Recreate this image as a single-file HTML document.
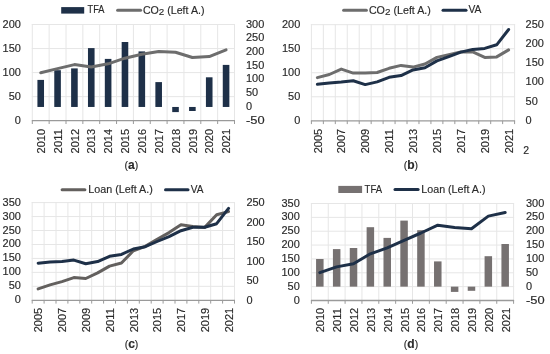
<!DOCTYPE html>
<html><head><meta charset="utf-8"><title>Charts</title>
<style>
html,body{margin:0;padding:0;background:#fff;}
body{width:550px;height:354px;overflow:hidden;}
svg{display:block;will-change:transform;}
svg text{font-family:"Liberation Sans", sans-serif;font-size:10.5px;fill:#2a2a2a;stroke:#2a2a2a;stroke-width:0.15px;}
</style></head>
<body>
<svg width="550" height="354" viewBox="0 0 550 354">
<rect width="550" height="354" fill="#fff"/>
<line x1="31.8" y1="24.5" x2="235" y2="24.5" stroke="#e6e6e6" stroke-width="1"/>
<line x1="31.8" y1="48.55" x2="235" y2="48.55" stroke="#e6e6e6" stroke-width="1"/>
<line x1="31.8" y1="72.6" x2="235" y2="72.6" stroke="#e6e6e6" stroke-width="1"/>
<line x1="31.8" y1="96.65" x2="235" y2="96.65" stroke="#e6e6e6" stroke-width="1"/>
<line x1="32.3" y1="24" x2="32.3" y2="120.7" stroke="#e6e6e6" stroke-width="1"/>
<line x1="49.15" y1="24" x2="49.15" y2="120.7" stroke="#e6e6e6" stroke-width="1"/>
<line x1="66" y1="24" x2="66" y2="120.7" stroke="#e6e6e6" stroke-width="1"/>
<line x1="82.85" y1="24" x2="82.85" y2="120.7" stroke="#e6e6e6" stroke-width="1"/>
<line x1="99.7" y1="24" x2="99.7" y2="120.7" stroke="#e6e6e6" stroke-width="1"/>
<line x1="116.55" y1="24" x2="116.55" y2="120.7" stroke="#e6e6e6" stroke-width="1"/>
<line x1="133.4" y1="24" x2="133.4" y2="120.7" stroke="#e6e6e6" stroke-width="1"/>
<line x1="150.25" y1="24" x2="150.25" y2="120.7" stroke="#e6e6e6" stroke-width="1"/>
<line x1="167.1" y1="24" x2="167.1" y2="120.7" stroke="#e6e6e6" stroke-width="1"/>
<line x1="183.95" y1="24" x2="183.95" y2="120.7" stroke="#e6e6e6" stroke-width="1"/>
<line x1="200.8" y1="24" x2="200.8" y2="120.7" stroke="#e6e6e6" stroke-width="1"/>
<line x1="217.65" y1="24" x2="217.65" y2="120.7" stroke="#e6e6e6" stroke-width="1"/>
<line x1="234.5" y1="24" x2="234.5" y2="120.7" stroke="#e6e6e6" stroke-width="1"/>
<line x1="31.8" y1="120.7" x2="235" y2="120.7" stroke="#9a9a9a" stroke-width="1.3"/>
<line x1="32.3" y1="120.7" x2="32.3" y2="124" stroke="#9a9a9a" stroke-width="1"/>
<line x1="49.15" y1="120.7" x2="49.15" y2="124" stroke="#9a9a9a" stroke-width="1"/>
<line x1="66" y1="120.7" x2="66" y2="124" stroke="#9a9a9a" stroke-width="1"/>
<line x1="82.85" y1="120.7" x2="82.85" y2="124" stroke="#9a9a9a" stroke-width="1"/>
<line x1="99.7" y1="120.7" x2="99.7" y2="124" stroke="#9a9a9a" stroke-width="1"/>
<line x1="116.55" y1="120.7" x2="116.55" y2="124" stroke="#9a9a9a" stroke-width="1"/>
<line x1="133.4" y1="120.7" x2="133.4" y2="124" stroke="#9a9a9a" stroke-width="1"/>
<line x1="150.25" y1="120.7" x2="150.25" y2="124" stroke="#9a9a9a" stroke-width="1"/>
<line x1="167.1" y1="120.7" x2="167.1" y2="124" stroke="#9a9a9a" stroke-width="1"/>
<line x1="183.95" y1="120.7" x2="183.95" y2="124" stroke="#9a9a9a" stroke-width="1"/>
<line x1="200.8" y1="120.7" x2="200.8" y2="124" stroke="#9a9a9a" stroke-width="1"/>
<line x1="217.65" y1="120.7" x2="217.65" y2="124" stroke="#9a9a9a" stroke-width="1"/>
<line x1="234.5" y1="120.7" x2="234.5" y2="124" stroke="#9a9a9a" stroke-width="1"/>
<text x="20.9" y="27.5" text-anchor="end" textLength="18.3" lengthAdjust="spacingAndGlyphs">200</text>
<text x="20.9" y="51.55" text-anchor="end" textLength="18.3" lengthAdjust="spacingAndGlyphs">150</text>
<text x="20.9" y="75.6" text-anchor="end" textLength="18.3" lengthAdjust="spacingAndGlyphs">100</text>
<text x="20.9" y="99.65" text-anchor="end" textLength="12.2" lengthAdjust="spacingAndGlyphs">50</text>
<text x="20.9" y="123.7" text-anchor="end" textLength="6.1" lengthAdjust="spacingAndGlyphs">0</text>
<text x="246" y="27.5" textLength="18.3" lengthAdjust="spacingAndGlyphs">300</text>
<text x="246" y="41.24" textLength="18.3" lengthAdjust="spacingAndGlyphs">250</text>
<text x="246" y="54.99" textLength="18.3" lengthAdjust="spacingAndGlyphs">200</text>
<text x="246" y="68.73" textLength="18.3" lengthAdjust="spacingAndGlyphs">150</text>
<text x="246" y="82.47" textLength="18.3" lengthAdjust="spacingAndGlyphs">100</text>
<text x="246" y="96.21" textLength="12.2" lengthAdjust="spacingAndGlyphs">50</text>
<text x="246" y="109.96" textLength="6.1" lengthAdjust="spacingAndGlyphs">0</text>
<text x="246" y="123.7" textLength="18.61" lengthAdjust="spacingAndGlyphs">-50</text>
<text transform="translate(44.92,129) rotate(-90)" text-anchor="end" textLength="24.4" lengthAdjust="spacingAndGlyphs">2010</text>
<text transform="translate(61.77,129) rotate(-90)" text-anchor="end" textLength="24.4" lengthAdjust="spacingAndGlyphs">2011</text>
<text transform="translate(78.62,129) rotate(-90)" text-anchor="end" textLength="24.4" lengthAdjust="spacingAndGlyphs">2012</text>
<text transform="translate(95.47,129) rotate(-90)" text-anchor="end" textLength="24.4" lengthAdjust="spacingAndGlyphs">2013</text>
<text transform="translate(112.32,129) rotate(-90)" text-anchor="end" textLength="24.4" lengthAdjust="spacingAndGlyphs">2014</text>
<text transform="translate(129.17,129) rotate(-90)" text-anchor="end" textLength="24.4" lengthAdjust="spacingAndGlyphs">2015</text>
<text transform="translate(146.02,129) rotate(-90)" text-anchor="end" textLength="24.4" lengthAdjust="spacingAndGlyphs">2016</text>
<text transform="translate(162.87,129) rotate(-90)" text-anchor="end" textLength="24.4" lengthAdjust="spacingAndGlyphs">2017</text>
<text transform="translate(179.72,129) rotate(-90)" text-anchor="end" textLength="24.4" lengthAdjust="spacingAndGlyphs">2018</text>
<text transform="translate(196.57,129) rotate(-90)" text-anchor="end" textLength="24.4" lengthAdjust="spacingAndGlyphs">2019</text>
<text transform="translate(213.42,129) rotate(-90)" text-anchor="end" textLength="24.4" lengthAdjust="spacingAndGlyphs">2020</text>
<text transform="translate(230.27,129) rotate(-90)" text-anchor="end" textLength="24.4" lengthAdjust="spacingAndGlyphs">2021</text>
<rect x="37.42" y="79.9" width="6.6" height="27.06" fill="#1e3048"/>
<rect x="54.27" y="70.2" width="6.6" height="36.76" fill="#1e3048"/>
<rect x="71.12" y="68.4" width="6.6" height="38.56" fill="#1e3048"/>
<rect x="87.97" y="48.1" width="6.6" height="58.86" fill="#1e3048"/>
<rect x="104.82" y="58.9" width="6.6" height="48.06" fill="#1e3048"/>
<rect x="121.67" y="42" width="6.6" height="64.96" fill="#1e3048"/>
<rect x="138.52" y="51.4" width="6.6" height="55.56" fill="#1e3048"/>
<rect x="155.37" y="82.1" width="6.6" height="24.86" fill="#1e3048"/>
<rect x="172.22" y="106.96" width="6.6" height="5.14" fill="#1e3048"/>
<rect x="189.07" y="106.96" width="6.6" height="4.04" fill="#1e3048"/>
<rect x="205.92" y="77.3" width="6.6" height="29.66" fill="#1e3048"/>
<rect x="222.77" y="64.9" width="6.6" height="42.06" fill="#1e3048"/>
<polyline points="40.72,72.7 57.57,68.6 74.42,64.6 91.27,67 108.12,63.8 124.97,58.2 141.82,54.2 158.67,51.5 175.52,52.3 192.38,57.5 209.22,56.6 226.07,49.8" fill="none" stroke="#6d6d6d" stroke-width="3.0" stroke-linejoin="round" stroke-linecap="round"/>
<rect x="61.2" y="7.1" width="23" height="6.5" fill="#1e3048"/>
<text x="87.5" y="13.3" font-size="10.2" textLength="16.9" lengthAdjust="spacingAndGlyphs">TFA</text>
<line x1="117.6" y1="10.2" x2="140.6" y2="10.2" stroke="#6d6d6d" stroke-width="3.0" stroke-linecap="round"/>
<text x="142.9" y="13.6" font-size="10.2" textLength="61.6" lengthAdjust="spacingAndGlyphs">CO<tspan dy="1.6" font-size="9.69">2</tspan><tspan dy="-1.6"> (Left A.)</tspan></text>
<text x="131.4" y="168.8" text-anchor="middle" font-family="Liberation Serif, serif" font-size="13" fill="#111" stroke="none">(<tspan font-weight="bold" font-size="12">a</tspan>)</text>
<line x1="310.9" y1="24.7" x2="515.1" y2="24.7" stroke="#e6e6e6" stroke-width="1"/>
<line x1="310.9" y1="48.72" x2="515.1" y2="48.72" stroke="#e6e6e6" stroke-width="1"/>
<line x1="310.9" y1="72.75" x2="515.1" y2="72.75" stroke="#e6e6e6" stroke-width="1"/>
<line x1="310.9" y1="96.77" x2="515.1" y2="96.77" stroke="#e6e6e6" stroke-width="1"/>
<line x1="311.4" y1="24.2" x2="311.4" y2="120.8" stroke="#e6e6e6" stroke-width="1"/>
<line x1="323.35" y1="24.2" x2="323.35" y2="120.8" stroke="#e6e6e6" stroke-width="1"/>
<line x1="335.31" y1="24.2" x2="335.31" y2="120.8" stroke="#e6e6e6" stroke-width="1"/>
<line x1="347.26" y1="24.2" x2="347.26" y2="120.8" stroke="#e6e6e6" stroke-width="1"/>
<line x1="359.21" y1="24.2" x2="359.21" y2="120.8" stroke="#e6e6e6" stroke-width="1"/>
<line x1="371.16" y1="24.2" x2="371.16" y2="120.8" stroke="#e6e6e6" stroke-width="1"/>
<line x1="383.12" y1="24.2" x2="383.12" y2="120.8" stroke="#e6e6e6" stroke-width="1"/>
<line x1="395.07" y1="24.2" x2="395.07" y2="120.8" stroke="#e6e6e6" stroke-width="1"/>
<line x1="407.02" y1="24.2" x2="407.02" y2="120.8" stroke="#e6e6e6" stroke-width="1"/>
<line x1="418.98" y1="24.2" x2="418.98" y2="120.8" stroke="#e6e6e6" stroke-width="1"/>
<line x1="430.93" y1="24.2" x2="430.93" y2="120.8" stroke="#e6e6e6" stroke-width="1"/>
<line x1="442.88" y1="24.2" x2="442.88" y2="120.8" stroke="#e6e6e6" stroke-width="1"/>
<line x1="454.84" y1="24.2" x2="454.84" y2="120.8" stroke="#e6e6e6" stroke-width="1"/>
<line x1="466.79" y1="24.2" x2="466.79" y2="120.8" stroke="#e6e6e6" stroke-width="1"/>
<line x1="478.74" y1="24.2" x2="478.74" y2="120.8" stroke="#e6e6e6" stroke-width="1"/>
<line x1="490.69" y1="24.2" x2="490.69" y2="120.8" stroke="#e6e6e6" stroke-width="1"/>
<line x1="502.65" y1="24.2" x2="502.65" y2="120.8" stroke="#e6e6e6" stroke-width="1"/>
<line x1="514.6" y1="24.2" x2="514.6" y2="120.8" stroke="#e6e6e6" stroke-width="1"/>
<line x1="310.9" y1="120.8" x2="515.1" y2="120.8" stroke="#9a9a9a" stroke-width="1.3"/>
<line x1="311.4" y1="120.8" x2="311.4" y2="124.1" stroke="#9a9a9a" stroke-width="1"/>
<line x1="323.35" y1="120.8" x2="323.35" y2="124.1" stroke="#9a9a9a" stroke-width="1"/>
<line x1="335.31" y1="120.8" x2="335.31" y2="124.1" stroke="#9a9a9a" stroke-width="1"/>
<line x1="347.26" y1="120.8" x2="347.26" y2="124.1" stroke="#9a9a9a" stroke-width="1"/>
<line x1="359.21" y1="120.8" x2="359.21" y2="124.1" stroke="#9a9a9a" stroke-width="1"/>
<line x1="371.16" y1="120.8" x2="371.16" y2="124.1" stroke="#9a9a9a" stroke-width="1"/>
<line x1="383.12" y1="120.8" x2="383.12" y2="124.1" stroke="#9a9a9a" stroke-width="1"/>
<line x1="395.07" y1="120.8" x2="395.07" y2="124.1" stroke="#9a9a9a" stroke-width="1"/>
<line x1="407.02" y1="120.8" x2="407.02" y2="124.1" stroke="#9a9a9a" stroke-width="1"/>
<line x1="418.98" y1="120.8" x2="418.98" y2="124.1" stroke="#9a9a9a" stroke-width="1"/>
<line x1="430.93" y1="120.8" x2="430.93" y2="124.1" stroke="#9a9a9a" stroke-width="1"/>
<line x1="442.88" y1="120.8" x2="442.88" y2="124.1" stroke="#9a9a9a" stroke-width="1"/>
<line x1="454.84" y1="120.8" x2="454.84" y2="124.1" stroke="#9a9a9a" stroke-width="1"/>
<line x1="466.79" y1="120.8" x2="466.79" y2="124.1" stroke="#9a9a9a" stroke-width="1"/>
<line x1="478.74" y1="120.8" x2="478.74" y2="124.1" stroke="#9a9a9a" stroke-width="1"/>
<line x1="490.69" y1="120.8" x2="490.69" y2="124.1" stroke="#9a9a9a" stroke-width="1"/>
<line x1="502.65" y1="120.8" x2="502.65" y2="124.1" stroke="#9a9a9a" stroke-width="1"/>
<line x1="514.6" y1="120.8" x2="514.6" y2="124.1" stroke="#9a9a9a" stroke-width="1"/>
<text x="300.3" y="27.7" text-anchor="end" textLength="18.3" lengthAdjust="spacingAndGlyphs">200</text>
<text x="300.3" y="51.72" text-anchor="end" textLength="18.3" lengthAdjust="spacingAndGlyphs">150</text>
<text x="300.3" y="75.75" text-anchor="end" textLength="18.3" lengthAdjust="spacingAndGlyphs">100</text>
<text x="300.3" y="99.77" text-anchor="end" textLength="12.2" lengthAdjust="spacingAndGlyphs">50</text>
<text x="300.3" y="123.8" text-anchor="end" textLength="6.1" lengthAdjust="spacingAndGlyphs">0</text>
<text x="525.6" y="27.7" textLength="18.3" lengthAdjust="spacingAndGlyphs">250</text>
<text x="525.6" y="46.92" textLength="18.3" lengthAdjust="spacingAndGlyphs">200</text>
<text x="525.6" y="66.14" textLength="18.3" lengthAdjust="spacingAndGlyphs">150</text>
<text x="525.6" y="85.36" textLength="18.3" lengthAdjust="spacingAndGlyphs">100</text>
<text x="525.6" y="104.58" textLength="12.2" lengthAdjust="spacingAndGlyphs">50</text>
<text x="525.6" y="123.8" textLength="6.1" lengthAdjust="spacingAndGlyphs">0</text>
<text transform="translate(321.58,128.9) rotate(-90)" text-anchor="end" textLength="24.4" lengthAdjust="spacingAndGlyphs">2005</text>
<text transform="translate(345.48,128.9) rotate(-90)" text-anchor="end" textLength="24.4" lengthAdjust="spacingAndGlyphs">2007</text>
<text transform="translate(369.39,128.9) rotate(-90)" text-anchor="end" textLength="24.4" lengthAdjust="spacingAndGlyphs">2009</text>
<text transform="translate(393.29,128.9) rotate(-90)" text-anchor="end" textLength="24.4" lengthAdjust="spacingAndGlyphs">2011</text>
<text transform="translate(417.2,128.9) rotate(-90)" text-anchor="end" textLength="24.4" lengthAdjust="spacingAndGlyphs">2013</text>
<text transform="translate(441.11,128.9) rotate(-90)" text-anchor="end" textLength="24.4" lengthAdjust="spacingAndGlyphs">2015</text>
<text transform="translate(465.01,128.9) rotate(-90)" text-anchor="end" textLength="24.4" lengthAdjust="spacingAndGlyphs">2017</text>
<text transform="translate(488.92,128.9) rotate(-90)" text-anchor="end" textLength="24.4" lengthAdjust="spacingAndGlyphs">2019</text>
<text transform="translate(512.82,128.9) rotate(-90)" text-anchor="end" textLength="24.4" lengthAdjust="spacingAndGlyphs">2021</text>
<polyline points="317.38,77.6 329.33,74.5 341.28,69.1 353.24,73.1 365.19,73.1 377.14,72.5 389.09,68.3 401.05,65.4 413,67.1 424.95,64 436.91,57.4 448.86,54.6 460.81,51.9 472.76,51.9 484.72,57.4 496.67,56.9 508.62,49.9" fill="none" stroke="#6d6d6d" stroke-width="3.0" stroke-linejoin="round" stroke-linecap="round"/>
<polyline points="317.38,84.3 329.33,82.9 341.28,82.1 353.24,80.8 365.19,84.6 377.14,81.9 389.09,77.3 401.05,75.6 413,69.9 424.95,67.7 436.91,60.9 448.86,56.6 460.81,52.1 472.76,49.4 484.72,48.4 496.67,44.8 508.62,29.5" fill="none" stroke="#1e3048" stroke-width="3.0" stroke-linejoin="round" stroke-linecap="round"/>
<line x1="343.6" y1="10.3" x2="366.4" y2="10.3" stroke="#6d6d6d" stroke-width="3.0" stroke-linecap="round"/>
<text x="368.9" y="13.6" font-size="10.2" textLength="62" lengthAdjust="spacingAndGlyphs">CO<tspan dy="1.6" font-size="9.69">2</tspan><tspan dy="-1.6"> (Left A.)</tspan></text>
<line x1="443" y1="10.3" x2="466" y2="10.3" stroke="#1e3048" stroke-width="3.0" stroke-linecap="round"/>
<text x="468.4" y="13.4" font-size="10.2" textLength="12.9" lengthAdjust="spacingAndGlyphs">VA</text>
<text x="410.9" y="168.8" text-anchor="middle" font-family="Liberation Serif, serif" font-size="13" fill="#111" stroke="none">(<tspan font-weight="bold" font-size="12">b</tspan>)</text>
<text x="523.2" y="154.0" font-size="10.5">2</text>
<line x1="31.7" y1="202.6" x2="235" y2="202.6" stroke="#e6e6e6" stroke-width="1"/>
<line x1="31.7" y1="216.56" x2="235" y2="216.56" stroke="#e6e6e6" stroke-width="1"/>
<line x1="31.7" y1="230.51" x2="235" y2="230.51" stroke="#e6e6e6" stroke-width="1"/>
<line x1="31.7" y1="244.47" x2="235" y2="244.47" stroke="#e6e6e6" stroke-width="1"/>
<line x1="31.7" y1="258.43" x2="235" y2="258.43" stroke="#e6e6e6" stroke-width="1"/>
<line x1="31.7" y1="272.39" x2="235" y2="272.39" stroke="#e6e6e6" stroke-width="1"/>
<line x1="31.7" y1="286.34" x2="235" y2="286.34" stroke="#e6e6e6" stroke-width="1"/>
<line x1="32.2" y1="202.1" x2="32.2" y2="300.3" stroke="#e6e6e6" stroke-width="1"/>
<line x1="44.1" y1="202.1" x2="44.1" y2="300.3" stroke="#e6e6e6" stroke-width="1"/>
<line x1="56" y1="202.1" x2="56" y2="300.3" stroke="#e6e6e6" stroke-width="1"/>
<line x1="67.9" y1="202.1" x2="67.9" y2="300.3" stroke="#e6e6e6" stroke-width="1"/>
<line x1="79.8" y1="202.1" x2="79.8" y2="300.3" stroke="#e6e6e6" stroke-width="1"/>
<line x1="91.7" y1="202.1" x2="91.7" y2="300.3" stroke="#e6e6e6" stroke-width="1"/>
<line x1="103.6" y1="202.1" x2="103.6" y2="300.3" stroke="#e6e6e6" stroke-width="1"/>
<line x1="115.5" y1="202.1" x2="115.5" y2="300.3" stroke="#e6e6e6" stroke-width="1"/>
<line x1="127.4" y1="202.1" x2="127.4" y2="300.3" stroke="#e6e6e6" stroke-width="1"/>
<line x1="139.3" y1="202.1" x2="139.3" y2="300.3" stroke="#e6e6e6" stroke-width="1"/>
<line x1="151.2" y1="202.1" x2="151.2" y2="300.3" stroke="#e6e6e6" stroke-width="1"/>
<line x1="163.1" y1="202.1" x2="163.1" y2="300.3" stroke="#e6e6e6" stroke-width="1"/>
<line x1="175" y1="202.1" x2="175" y2="300.3" stroke="#e6e6e6" stroke-width="1"/>
<line x1="186.9" y1="202.1" x2="186.9" y2="300.3" stroke="#e6e6e6" stroke-width="1"/>
<line x1="198.8" y1="202.1" x2="198.8" y2="300.3" stroke="#e6e6e6" stroke-width="1"/>
<line x1="210.7" y1="202.1" x2="210.7" y2="300.3" stroke="#e6e6e6" stroke-width="1"/>
<line x1="222.6" y1="202.1" x2="222.6" y2="300.3" stroke="#e6e6e6" stroke-width="1"/>
<line x1="234.5" y1="202.1" x2="234.5" y2="300.3" stroke="#e6e6e6" stroke-width="1"/>
<line x1="31.7" y1="300.3" x2="235" y2="300.3" stroke="#9a9a9a" stroke-width="1.3"/>
<line x1="32.2" y1="300.3" x2="32.2" y2="303.6" stroke="#9a9a9a" stroke-width="1"/>
<line x1="44.1" y1="300.3" x2="44.1" y2="303.6" stroke="#9a9a9a" stroke-width="1"/>
<line x1="56" y1="300.3" x2="56" y2="303.6" stroke="#9a9a9a" stroke-width="1"/>
<line x1="67.9" y1="300.3" x2="67.9" y2="303.6" stroke="#9a9a9a" stroke-width="1"/>
<line x1="79.8" y1="300.3" x2="79.8" y2="303.6" stroke="#9a9a9a" stroke-width="1"/>
<line x1="91.7" y1="300.3" x2="91.7" y2="303.6" stroke="#9a9a9a" stroke-width="1"/>
<line x1="103.6" y1="300.3" x2="103.6" y2="303.6" stroke="#9a9a9a" stroke-width="1"/>
<line x1="115.5" y1="300.3" x2="115.5" y2="303.6" stroke="#9a9a9a" stroke-width="1"/>
<line x1="127.4" y1="300.3" x2="127.4" y2="303.6" stroke="#9a9a9a" stroke-width="1"/>
<line x1="139.3" y1="300.3" x2="139.3" y2="303.6" stroke="#9a9a9a" stroke-width="1"/>
<line x1="151.2" y1="300.3" x2="151.2" y2="303.6" stroke="#9a9a9a" stroke-width="1"/>
<line x1="163.1" y1="300.3" x2="163.1" y2="303.6" stroke="#9a9a9a" stroke-width="1"/>
<line x1="175" y1="300.3" x2="175" y2="303.6" stroke="#9a9a9a" stroke-width="1"/>
<line x1="186.9" y1="300.3" x2="186.9" y2="303.6" stroke="#9a9a9a" stroke-width="1"/>
<line x1="198.8" y1="300.3" x2="198.8" y2="303.6" stroke="#9a9a9a" stroke-width="1"/>
<line x1="210.7" y1="300.3" x2="210.7" y2="303.6" stroke="#9a9a9a" stroke-width="1"/>
<line x1="222.6" y1="300.3" x2="222.6" y2="303.6" stroke="#9a9a9a" stroke-width="1"/>
<line x1="234.5" y1="300.3" x2="234.5" y2="303.6" stroke="#9a9a9a" stroke-width="1"/>
<text x="20.9" y="205.6" text-anchor="end" textLength="18.3" lengthAdjust="spacingAndGlyphs">350</text>
<text x="20.9" y="219.56" text-anchor="end" textLength="18.3" lengthAdjust="spacingAndGlyphs">300</text>
<text x="20.9" y="233.51" text-anchor="end" textLength="18.3" lengthAdjust="spacingAndGlyphs">250</text>
<text x="20.9" y="247.47" text-anchor="end" textLength="18.3" lengthAdjust="spacingAndGlyphs">200</text>
<text x="20.9" y="261.43" text-anchor="end" textLength="18.3" lengthAdjust="spacingAndGlyphs">150</text>
<text x="20.9" y="275.39" text-anchor="end" textLength="18.3" lengthAdjust="spacingAndGlyphs">100</text>
<text x="20.9" y="289.34" text-anchor="end" textLength="12.2" lengthAdjust="spacingAndGlyphs">50</text>
<text x="20.9" y="303.3" text-anchor="end" textLength="6.1" lengthAdjust="spacingAndGlyphs">0</text>
<text x="246.4" y="206.1" textLength="18.3" lengthAdjust="spacingAndGlyphs">250</text>
<text x="246.4" y="225.64" textLength="18.3" lengthAdjust="spacingAndGlyphs">200</text>
<text x="246.4" y="245.18" textLength="18.3" lengthAdjust="spacingAndGlyphs">150</text>
<text x="246.4" y="264.72" textLength="18.3" lengthAdjust="spacingAndGlyphs">100</text>
<text x="246.4" y="284.26" textLength="12.2" lengthAdjust="spacingAndGlyphs">50</text>
<text x="246.4" y="303.8" textLength="6.1" lengthAdjust="spacingAndGlyphs">0</text>
<text transform="translate(42.35,307.9) rotate(-90)" text-anchor="end" textLength="24.4" lengthAdjust="spacingAndGlyphs">2005</text>
<text transform="translate(66.15,307.9) rotate(-90)" text-anchor="end" textLength="24.4" lengthAdjust="spacingAndGlyphs">2007</text>
<text transform="translate(89.95,307.9) rotate(-90)" text-anchor="end" textLength="24.4" lengthAdjust="spacingAndGlyphs">2009</text>
<text transform="translate(113.75,307.9) rotate(-90)" text-anchor="end" textLength="24.4" lengthAdjust="spacingAndGlyphs">2011</text>
<text transform="translate(137.55,307.9) rotate(-90)" text-anchor="end" textLength="24.4" lengthAdjust="spacingAndGlyphs">2013</text>
<text transform="translate(161.35,307.9) rotate(-90)" text-anchor="end" textLength="24.4" lengthAdjust="spacingAndGlyphs">2015</text>
<text transform="translate(185.15,307.9) rotate(-90)" text-anchor="end" textLength="24.4" lengthAdjust="spacingAndGlyphs">2017</text>
<text transform="translate(208.95,307.9) rotate(-90)" text-anchor="end" textLength="24.4" lengthAdjust="spacingAndGlyphs">2019</text>
<text transform="translate(232.75,307.9) rotate(-90)" text-anchor="end" textLength="24.4" lengthAdjust="spacingAndGlyphs">2021</text>
<polyline points="38.15,288.9 50.05,284.9 61.95,281.6 73.85,277.6 85.75,278.5 97.65,272.9 109.55,266.1 121.45,263 133.35,250.8 145.25,246.4 157.15,239.2 169.05,232.6 180.95,224.7 192.85,226.5 204.75,227.4 216.65,214.8 228.55,211.6" fill="none" stroke="#63605e" stroke-width="3.0" stroke-linejoin="round" stroke-linecap="round"/>
<polyline points="38.15,263.2 50.05,262.1 61.95,261.6 73.85,260.1 85.75,263.7 97.65,261.6 109.55,256.3 121.45,254.4 133.35,249 145.25,246.7 157.15,241.5 169.05,236.6 180.95,230.7 192.85,227.3 204.75,227.2 216.65,223.7 228.55,208.4" fill="none" stroke="#1e3048" stroke-width="3.0" stroke-linejoin="round" stroke-linecap="round"/>
<line x1="62.1" y1="189.7" x2="84.9" y2="189.7" stroke="#63605e" stroke-width="3.0" stroke-linecap="round"/>
<text x="88.3" y="192.9" font-size="10.2" textLength="64.5" lengthAdjust="spacingAndGlyphs">Loan (Left A.)</text>
<line x1="165.5" y1="189.7" x2="188" y2="189.7" stroke="#1e3048" stroke-width="3.0" stroke-linecap="round"/>
<text x="190.8" y="192.9" font-size="10.2" textLength="12.7" lengthAdjust="spacingAndGlyphs">VA</text>
<text x="131.5" y="348" text-anchor="middle" font-family="Liberation Serif, serif" font-size="13" fill="#111" stroke="none">(<tspan font-weight="bold" font-size="12">c</tspan>)</text>
<line x1="310.9" y1="203.5" x2="514.1" y2="203.5" stroke="#e6e6e6" stroke-width="1"/>
<line x1="310.9" y1="217.36" x2="514.1" y2="217.36" stroke="#e6e6e6" stroke-width="1"/>
<line x1="310.9" y1="231.21" x2="514.1" y2="231.21" stroke="#e6e6e6" stroke-width="1"/>
<line x1="310.9" y1="245.07" x2="514.1" y2="245.07" stroke="#e6e6e6" stroke-width="1"/>
<line x1="310.9" y1="258.93" x2="514.1" y2="258.93" stroke="#e6e6e6" stroke-width="1"/>
<line x1="310.9" y1="272.79" x2="514.1" y2="272.79" stroke="#e6e6e6" stroke-width="1"/>
<line x1="310.9" y1="286.64" x2="514.1" y2="286.64" stroke="#e6e6e6" stroke-width="1"/>
<line x1="311.4" y1="203" x2="311.4" y2="300.5" stroke="#e6e6e6" stroke-width="1"/>
<line x1="328.25" y1="203" x2="328.25" y2="300.5" stroke="#e6e6e6" stroke-width="1"/>
<line x1="345.1" y1="203" x2="345.1" y2="300.5" stroke="#e6e6e6" stroke-width="1"/>
<line x1="361.95" y1="203" x2="361.95" y2="300.5" stroke="#e6e6e6" stroke-width="1"/>
<line x1="378.8" y1="203" x2="378.8" y2="300.5" stroke="#e6e6e6" stroke-width="1"/>
<line x1="395.65" y1="203" x2="395.65" y2="300.5" stroke="#e6e6e6" stroke-width="1"/>
<line x1="412.5" y1="203" x2="412.5" y2="300.5" stroke="#e6e6e6" stroke-width="1"/>
<line x1="429.35" y1="203" x2="429.35" y2="300.5" stroke="#e6e6e6" stroke-width="1"/>
<line x1="446.2" y1="203" x2="446.2" y2="300.5" stroke="#e6e6e6" stroke-width="1"/>
<line x1="463.05" y1="203" x2="463.05" y2="300.5" stroke="#e6e6e6" stroke-width="1"/>
<line x1="479.9" y1="203" x2="479.9" y2="300.5" stroke="#e6e6e6" stroke-width="1"/>
<line x1="496.75" y1="203" x2="496.75" y2="300.5" stroke="#e6e6e6" stroke-width="1"/>
<line x1="513.6" y1="203" x2="513.6" y2="300.5" stroke="#e6e6e6" stroke-width="1"/>
<line x1="310.9" y1="300.5" x2="514.1" y2="300.5" stroke="#9a9a9a" stroke-width="1.3"/>
<line x1="311.4" y1="300.5" x2="311.4" y2="303.8" stroke="#9a9a9a" stroke-width="1"/>
<line x1="328.25" y1="300.5" x2="328.25" y2="303.8" stroke="#9a9a9a" stroke-width="1"/>
<line x1="345.1" y1="300.5" x2="345.1" y2="303.8" stroke="#9a9a9a" stroke-width="1"/>
<line x1="361.95" y1="300.5" x2="361.95" y2="303.8" stroke="#9a9a9a" stroke-width="1"/>
<line x1="378.8" y1="300.5" x2="378.8" y2="303.8" stroke="#9a9a9a" stroke-width="1"/>
<line x1="395.65" y1="300.5" x2="395.65" y2="303.8" stroke="#9a9a9a" stroke-width="1"/>
<line x1="412.5" y1="300.5" x2="412.5" y2="303.8" stroke="#9a9a9a" stroke-width="1"/>
<line x1="429.35" y1="300.5" x2="429.35" y2="303.8" stroke="#9a9a9a" stroke-width="1"/>
<line x1="446.2" y1="300.5" x2="446.2" y2="303.8" stroke="#9a9a9a" stroke-width="1"/>
<line x1="463.05" y1="300.5" x2="463.05" y2="303.8" stroke="#9a9a9a" stroke-width="1"/>
<line x1="479.9" y1="300.5" x2="479.9" y2="303.8" stroke="#9a9a9a" stroke-width="1"/>
<line x1="496.75" y1="300.5" x2="496.75" y2="303.8" stroke="#9a9a9a" stroke-width="1"/>
<line x1="513.6" y1="300.5" x2="513.6" y2="303.8" stroke="#9a9a9a" stroke-width="1"/>
<text x="299.8" y="206.5" text-anchor="end" textLength="18.3" lengthAdjust="spacingAndGlyphs">350</text>
<text x="299.8" y="220.36" text-anchor="end" textLength="18.3" lengthAdjust="spacingAndGlyphs">300</text>
<text x="299.8" y="234.21" text-anchor="end" textLength="18.3" lengthAdjust="spacingAndGlyphs">250</text>
<text x="299.8" y="248.07" text-anchor="end" textLength="18.3" lengthAdjust="spacingAndGlyphs">200</text>
<text x="299.8" y="261.93" text-anchor="end" textLength="18.3" lengthAdjust="spacingAndGlyphs">150</text>
<text x="299.8" y="275.79" text-anchor="end" textLength="18.3" lengthAdjust="spacingAndGlyphs">100</text>
<text x="299.8" y="289.64" text-anchor="end" textLength="12.2" lengthAdjust="spacingAndGlyphs">50</text>
<text x="299.8" y="303.5" text-anchor="end" textLength="6.1" lengthAdjust="spacingAndGlyphs">0</text>
<text x="526" y="206.5" textLength="18.3" lengthAdjust="spacingAndGlyphs">300</text>
<text x="526" y="220.36" textLength="18.3" lengthAdjust="spacingAndGlyphs">250</text>
<text x="526" y="234.21" textLength="18.3" lengthAdjust="spacingAndGlyphs">200</text>
<text x="526" y="248.07" textLength="18.3" lengthAdjust="spacingAndGlyphs">150</text>
<text x="526" y="261.93" textLength="18.3" lengthAdjust="spacingAndGlyphs">100</text>
<text x="526" y="275.79" textLength="12.2" lengthAdjust="spacingAndGlyphs">50</text>
<text x="526" y="289.64" textLength="6.1" lengthAdjust="spacingAndGlyphs">0</text>
<text x="526" y="303.5" textLength="18.61" lengthAdjust="spacingAndGlyphs">-50</text>
<text transform="translate(324.32,307.9) rotate(-90)" text-anchor="end" textLength="24.4" lengthAdjust="spacingAndGlyphs">2010</text>
<text transform="translate(341.17,307.9) rotate(-90)" text-anchor="end" textLength="24.4" lengthAdjust="spacingAndGlyphs">2011</text>
<text transform="translate(358.02,307.9) rotate(-90)" text-anchor="end" textLength="24.4" lengthAdjust="spacingAndGlyphs">2012</text>
<text transform="translate(374.88,307.9) rotate(-90)" text-anchor="end" textLength="24.4" lengthAdjust="spacingAndGlyphs">2013</text>
<text transform="translate(391.73,307.9) rotate(-90)" text-anchor="end" textLength="24.4" lengthAdjust="spacingAndGlyphs">2014</text>
<text transform="translate(408.57,307.9) rotate(-90)" text-anchor="end" textLength="24.4" lengthAdjust="spacingAndGlyphs">2015</text>
<text transform="translate(425.43,307.9) rotate(-90)" text-anchor="end" textLength="24.4" lengthAdjust="spacingAndGlyphs">2016</text>
<text transform="translate(442.28,307.9) rotate(-90)" text-anchor="end" textLength="24.4" lengthAdjust="spacingAndGlyphs">2017</text>
<text transform="translate(459.12,307.9) rotate(-90)" text-anchor="end" textLength="24.4" lengthAdjust="spacingAndGlyphs">2018</text>
<text transform="translate(475.98,307.9) rotate(-90)" text-anchor="end" textLength="24.4" lengthAdjust="spacingAndGlyphs">2019</text>
<text transform="translate(492.83,307.9) rotate(-90)" text-anchor="end" textLength="24.4" lengthAdjust="spacingAndGlyphs">2020</text>
<text transform="translate(509.68,307.9) rotate(-90)" text-anchor="end" textLength="24.4" lengthAdjust="spacingAndGlyphs">2021</text>
<rect x="316.07" y="259" width="7.5" height="27.64" fill="#767171"/>
<rect x="332.92" y="249.1" width="7.5" height="37.54" fill="#767171"/>
<rect x="349.77" y="248" width="7.5" height="38.64" fill="#767171"/>
<rect x="366.62" y="227.2" width="7.5" height="59.44" fill="#767171"/>
<rect x="383.48" y="237.9" width="7.5" height="48.74" fill="#767171"/>
<rect x="400.32" y="220.6" width="7.5" height="66.04" fill="#767171"/>
<rect x="417.18" y="230.2" width="7.5" height="56.44" fill="#767171"/>
<rect x="434.03" y="261.4" width="7.5" height="25.24" fill="#767171"/>
<rect x="450.88" y="286.64" width="7.5" height="5.26" fill="#767171"/>
<rect x="467.73" y="286.64" width="7.5" height="4.16" fill="#767171"/>
<rect x="484.58" y="256.2" width="7.5" height="30.44" fill="#767171"/>
<rect x="501.43" y="244" width="7.5" height="42.64" fill="#767171"/>
<polyline points="319.82,272.6 336.67,266.9 353.52,263.7 370.38,253.8 387.23,247.8 404.07,240.3 420.93,233 437.78,225.2 454.62,227.4 471.48,228.8 488.33,216.1 505.18,212.5" fill="none" stroke="#1e3048" stroke-width="3.0" stroke-linejoin="round" stroke-linecap="round"/>
<rect x="338.3" y="185.9" width="23.8" height="7.1" fill="#767171"/>
<text x="364.6" y="192.9" font-size="10.2" textLength="17.4" lengthAdjust="spacingAndGlyphs">TFA</text>
<line x1="395" y1="189.5" x2="418.1" y2="189.5" stroke="#1e3048" stroke-width="3.0" stroke-linecap="round"/>
<text x="421.3" y="192.9" font-size="10.2" textLength="64.2" lengthAdjust="spacingAndGlyphs">Loan (Left A.)</text>
<text x="411" y="348" text-anchor="middle" font-family="Liberation Serif, serif" font-size="13" fill="#111" stroke="none">(<tspan font-weight="bold" font-size="12">d</tspan>)</text>
</svg>
</body></html>
